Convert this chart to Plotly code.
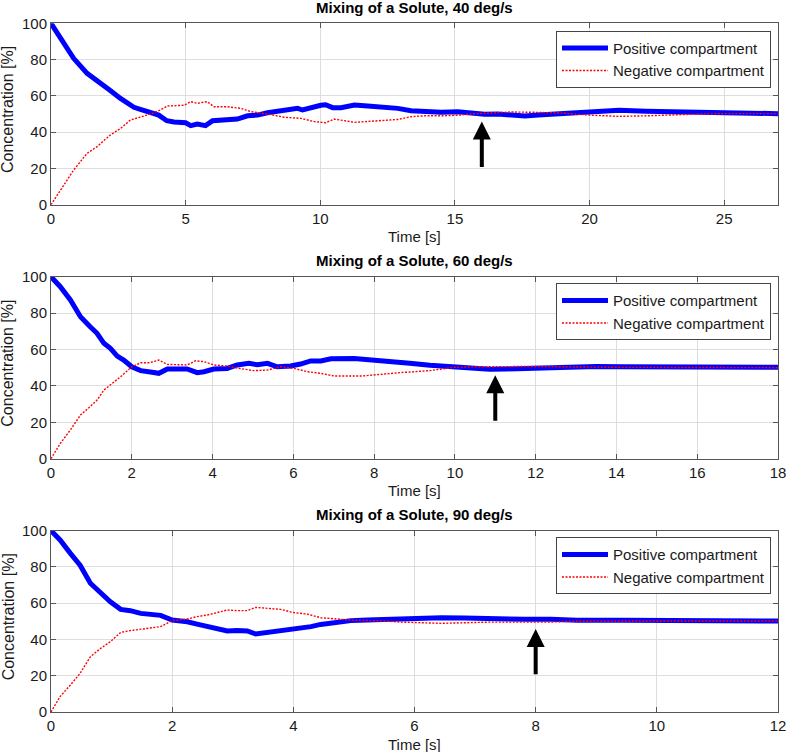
import plotly.graph_objects as go
from plotly.subplots import make_subplots

# ---------------- data ----------------
titles = ["Mixing of a Solute, 40 deg/s", "Mixing of a Solute, 60 deg/s", "Mixing of a Solute, 90 deg/s"]
x_max = [27, 18, 12]
x_ticks = [[0, 5, 10, 15, 20, 25], [0, 2, 4, 6, 8, 10, 12, 14, 16, 18], [0, 2, 4, 6, 8, 10, 12]]
y_ticks = [0, 20, 40, 60, 80, 100]
arrow_t = [16, 11, 8]
arrow_tip = [45.8, 45.8, 45.8]
arrow_tail = [20, 20, 20]

t1_pos = [0, 0.4, 0.84, 1.34, 1.71, 2.2, 2.58, 3.08, 3.32, 3.7, 4.0, 4.3, 4.57, 5.0, 5.19, 5.43, 5.74, 6.0,
          6.55, 6.92, 7.3, 7.67, 8.04, 8.4, 8.78, 9.16, 9.34, 9.65, 10.02, 10.2, 10.46, 10.77, 11.27, 11.76,
          12.4, 12.88, 13.37, 13.87, 14.49, 15.11, 15.6, 16.1, 16.6, 17.1, 17.6, 18.1, 18.6, 19.1, 19.6,
          20.1, 21.1, 22.1, 23.1, 24.1, 25.1, 26.1, 27]
v1_pos = [100, 90.5, 80.7, 72.4, 68.7, 63, 58.6, 53.7, 52.6, 50.7, 49.4, 46.3, 45.6, 45.2, 43.6, 44.5, 43.6, 46.3,
          46.7, 47.2, 49, 49.4, 50.7, 51.3, 52.6, 53.1, 52.2, 53.7, 54.8, 55.1, 53.5, 53.5, 55, 54.4,
          53.7, 53.1, 51.8, 51.3, 50.9, 51.3, 50.4, 49.8, 50, 49.4, 48.9, 49.4, 49.8, 50.7, 51.1,
          51.7, 52, 51.5, 51.1, 50.7, 50.4, 50.2, 50.2]
t1_neg = [0, 0.6, 0.84, 1.34, 1.71, 2.2, 2.58, 2.95, 3.32, 3.7, 4.07, 4.32, 4.94, 5.19, 5.43, 5.8, 6.05, 6.55,
          7.05, 7.42, 8.04, 8.66, 9.28, 9.78, 10.2, 10.52, 11.27, 12.13, 12.88, 13.37, 13.87, 14.49, 15.11,
          15.6, 16.35, 17.1, 18.1, 19.1, 20.1, 21.1, 22.1, 23.1, 24.1, 25.1, 27]
v1_neg = [0, 13.6, 19.1, 28.3, 32, 38.4, 42, 46.7, 48.2, 50, 52.2, 54.4, 54.8, 56.8, 55.9, 56.8, 54, 54,
          53.1, 51.3, 50, 48.2, 47.6, 45.8, 45.2, 47.2, 45.4, 46.3, 47, 48.5, 49, 49, 49.3,
          50, 50.6, 51.1, 50.9, 50.4, 49.3, 48.7, 49, 49.6, 50, 50.2, 50.2]

t2_pos = [0, 0.23, 0.48, 0.73, 0.97, 1.14, 1.31, 1.47, 1.64, 1.8, 2.0, 2.22, 2.46, 2.67, 2.88, 3.12, 3.37, 3.62,
          3.79, 4.03, 4.36, 4.61, 4.9, 5.11, 5.36, 5.6, 5.93, 6.18, 6.43, 6.68, 6.93, 7.51, 8.0, 8.41, 8.88,
          9.38, 9.96, 10.45, 10.86, 11.28, 11.69, 12.1, 12.5, 13.0, 13.5, 14.16, 14.98, 15.8, 16.6, 18]
v2_pos = [100, 94.5, 87.2, 78, 72.5, 68.9, 63.4, 60.6, 56.4, 54.2, 50.5, 48.4, 47.6, 46.9, 49.3, 49.6, 49.3, 47.3,
          47.8, 49.3, 49.6, 51.5, 52.4, 51.6, 52.4, 50.5, 50.9, 52, 53.7, 53.7, 54.9, 55.1, 54.2, 53.9, 52.4,
          51.3, 50.5, 49.6, 49.1, 49.3, 49.6, 49.3, 49.6, 50.4, 50.7, 50.5, 50.4, 50.4, 50.2, 50.2]
t2_neg = [0, 0.23, 0.48, 0.73, 0.97, 1.14, 1.31, 1.47, 1.72, 2.0, 2.22, 2.43, 2.67, 2.88, 3.12, 3.37, 3.58, 3.79,
          4.03, 4.36, 4.69, 5.02, 5.36, 5.69, 6.02, 6.35, 6.68, 7.02, 7.68, 8.17, 8.66, 9.38, 9.96, 10.45,
          11.28, 12.1, 13.0, 14.16, 18]
v2_neg = [0, 8.4, 15.8, 24, 28.6, 32.2, 37.7, 40.5, 45, 50.5, 52.7, 52.7, 54.2, 51.8, 51.5, 51.5, 53.8, 53.3,
          51.5, 50.9, 49.5, 48.4, 48.7, 50.5, 49.6, 47.8, 46.9, 45.4, 45.4, 46.5, 47.3, 48.4, 50.2, 50.5,
          50.7, 50.7, 50.4, 50.2, 50.0]

t3_pos = [0, 0.15, 0.32, 0.48, 0.65, 0.82, 0.98, 1.15, 1.31, 1.48, 1.64, 1.81, 2.0, 2.25, 2.41, 2.58, 2.74, 2.91,
          3.07, 3.24, 3.38, 3.57, 3.74, 3.9, 4.12, 4.29, 4.45, 4.67, 4.95, 5.22, 5.5, 5.77, 6.0, 6.44, 6.82,
          7.26, 7.8, 8.25, 8.68, 9.45, 10.55, 12]
v3_pos = [100, 94.9, 87.5, 81, 71, 65.4, 60.8, 56.6, 55.9, 54.4, 53.9, 53.3, 50.7, 49.8, 48.5, 47.1, 46.1, 44.7,
          44.9, 44.7, 43, 43.8, 44.1, 45.2, 46.3, 47.1, 48.3, 49.4, 50.4, 50.7, 51.1, 51.5, 51.7, 52, 51.8,
          51.3, 51.1, 51.1, 50.6, 50.6, 50.4, 50.2]
t3_neg = [0, 0.15, 0.32, 0.48, 0.65, 0.82, 0.98, 1.15, 1.31, 1.48, 1.64, 1.81, 2.0, 2.25, 2.41, 2.58, 2.74, 2.91,
          3.07, 3.24, 3.38, 3.57, 3.79, 4.01, 4.23, 4.45, 4.67, 4.95, 5.5, 5.77, 6.44, 7.26, 8.25, 8.68, 12]
v3_neg = [0, 8.5, 14.9, 21.3, 30.5, 35.1, 38.8, 43.9, 44.9, 45.6, 46.5, 47.1, 50.4, 51.3, 52.6, 53.5, 54.8, 56.3,
          55.9, 55.9, 57.7, 57, 56.6, 54.8, 54, 52, 51.3, 50.7, 50.2, 49.6, 48.9, 49.6, 49.6, 50.2, 50.2]

series_t_pos = [t1_pos, t2_pos, t3_pos]
series_v_pos = [v1_pos, v2_pos, v3_pos]
series_t_neg = [t1_neg, t2_neg, t3_neg]
series_v_neg = [v1_neg, v2_neg, v3_neg]

# ---------------- figure ----------------
FONT = "Liberation Sans, Arial, sans-serif"
W, H = 786, 752
ML, MR, MT, MB = 51, 8, 23, 40
PH = H - MT - MB  # plot area height in px

tops = [23.3, 276.7, 530.7]
bots = [204.7, 458.7, 712.0]
def py(p):
    return (H - MB - p) / PH

domains = [[py(b), py(t)] for t, b in zip(tops, bots)]

fig = make_subplots(rows=3, cols=1)
legend_names = ["legend", "legend2", "legend3"]

for i in range(3):
    r = i + 1
    fig.add_trace(go.Scatter(x=series_t_pos[i], y=series_v_pos[i], mode="lines",
                             name="Positive compartment", legend=legend_names[i],
                             line=dict(color="#0000FF", width=5)), row=r, col=1)
    fig.add_trace(go.Scatter(x=series_t_neg[i], y=series_v_neg[i], mode="lines",
                             name="Negative compartment", legend=legend_names[i],
                             line=dict(color="#FF0000", width=1.4, dash="2px,1.5px")), row=r, col=1)

axis_common = dict(showgrid=True, gridcolor="#dedede", gridwidth=1,
                   showline=True, linecolor="#555555", linewidth=1, mirror="ticks",
                   ticks="inside", ticklen=5, tickcolor="#555555", ticklabeloverflow="allow",
                   automargin=False,
                   tickfont=dict(family=FONT, size=15, color="#1a1a1a"), zeroline=False)

annotations = []
for i in range(3):
    xa = "xaxis" if i == 0 else f"xaxis{i+1}"
    ya = "yaxis" if i == 0 else f"yaxis{i+1}"
    fig.layout[xa].update(range=[0, x_max[i]], tickmode="array", tickvals=x_ticks[i],
                          ticktext=[str(v) for v in x_ticks[i]], **axis_common)
    fig.layout[ya].update(range=[0, 100], tickmode="array", tickvals=y_ticks,
                          ticktext=[str(v) for v in y_ticks], domain=domains[i], **axis_common)
    xr = "x" if i == 0 else f"x{i+1}"
    yr = "y" if i == 0 else f"y{i+1}"
    d0, d1 = domains[i]
    annotations.append(dict(text="<b>" + titles[i] + "</b>", xref="paper", yref="paper", x=0.5, y=d1,
                            xanchor="center", yanchor="middle", yshift=16, showarrow=False,
                            font=dict(family=FONT, size=15, color="black")))
    annotations.append(dict(text="Time [s]", xref="paper", yref="paper", x=0.5, y=d0,
                            xanchor="center", yanchor="middle", yshift=-32, showarrow=False,
                            font=dict(family=FONT, size=15, color="#1a1a1a")))
    annotations.append(dict(text="Concentration [%]", xref="paper", yref="paper", x=0, y=(d0 + d1) / 2,
                            xanchor="center", yanchor="middle", xshift=-43, yshift=4, textangle=-90,
                            showarrow=False, font=dict(family=FONT, size=16, color="#1a1a1a")))
    annotations.append(dict(x=arrow_t[i], y=arrow_tip[i], ax=arrow_t[i], ay=arrow_tail[i],
                            xref=xr, yref=yr, axref=xr, ayref=yr, text="", showarrow=True,
                            arrowhead=2, arrowsize=0.9, arrowwidth=4, arrowcolor="black"))

leg_tops = [30.7, 283.3, 537.3]
leg_common = dict(xref="paper", yref="paper", x=(771 - ML) / (W - ML - MR), xanchor="right", yanchor="top",
                  bgcolor="white", bordercolor="#444444", borderwidth=1,
                  font=dict(family=FONT, size=15, color="#1a1a1a"), itemwidth=46,
                  tracegroupgap=0)
fig.update_layout(
    legend=dict(y=py(leg_tops[0]), **leg_common),
    legend2=dict(y=py(leg_tops[1]), **leg_common),
    legend3=dict(y=py(leg_tops[2]), **leg_common),
)

fig.update_layout(width=W, height=H, margin=dict(l=ML, r=MR, t=MT, b=MB, autoexpand=False),
                  plot_bgcolor="white", paper_bgcolor="white",
                  font=dict(family=FONT, size=15),
                  annotations=annotations, showlegend=True)

fig.write_html("out.html", config={"displayModeBar": False},
               post_script="document.body.style.margin='0';document.body.style.overflow='hidden';")
